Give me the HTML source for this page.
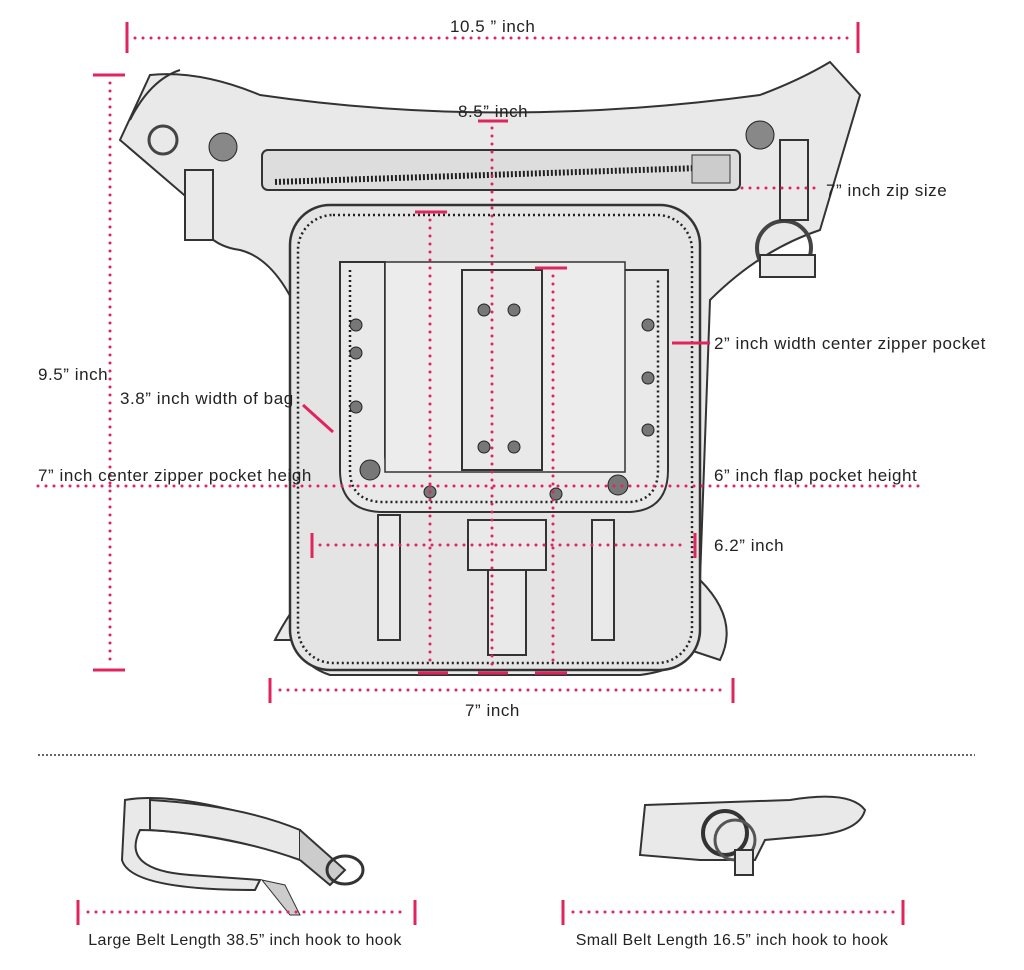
<!DOCTYPE html>
<html><head><meta charset="utf-8"><style>
html,body{margin:0;padding:0;background:#fff;}
svg{display:block;}
text{font-family:"Liberation Sans",sans-serif;font-size:17px;letter-spacing:0.55px;fill:#222;}
.p{stroke:#e0245e;stroke-width:3;stroke-linecap:round;stroke-dasharray:0 8;fill:none;}
.t{stroke:#e0245e;stroke-width:3;fill:none;}
.o{stroke:#333;stroke-width:2;fill:#e9e9e9;}
.d{stroke:#222;stroke-width:2.5;stroke-dasharray:2 3;fill:none;}
</style></head><body>
<svg width="1024" height="970" viewBox="0 0 1024 970">
<path class="o" d="M150 75 Q200 70 260 95 Q500 130 760 95 Q800 80 830 62 L860 95 L820 230 Q760 250 710 300 L700 580 Q740 620 720 660 L690 650 Q680 670 640 675 L330 675 Q300 665 298 640 L275 640 Q285 620 300 600 L305 330 Q280 260 240 250 Q200 245 190 200 L120 140 Z"/>
<path d="M130 120 Q150 80 180 70" stroke="#333" stroke-width="2" fill="none"/>
<rect x="185" y="170" width="28" height="70" class="o"/>
<circle cx="163" cy="140" r="14" fill="none" stroke="#444" stroke-width="3"/>
<circle cx="784" cy="248" r="27" fill="none" stroke="#444" stroke-width="4"/>
<rect x="780" y="140" width="28" height="80" class="o"/>
<rect x="760" y="255" width="55" height="22" class="o"/>
<circle cx="223" cy="147" r="14" fill="#888" stroke="#222"/>
<circle cx="760" cy="135" r="14" fill="#888" stroke="#222"/>
<rect x="262" y="150" width="478" height="40" rx="6" fill="#ddd" stroke="#333" stroke-width="2"/>
<path d="M275 182 L700 168" stroke="#222" stroke-width="6" stroke-dasharray="2 2"/>
<rect x="692" y="155" width="38" height="28" fill="#ccc" stroke="#333"/>
<rect x="290" y="205" width="410" height="465" rx="40" fill="#e4e4e4" stroke="#333" stroke-width="2.5"/>
<rect x="298" y="215" width="394" height="448" rx="35" class="d"/>
<path class="o" d="M340 262 L385 262 L385 455 Q385 470 400 470 L605 470 Q620 470 620 455 L620 270 L668 270 L668 470 Q668 510 630 512 L380 512 Q340 510 340 470 Z"/>
<path class="d" d="M350 270 L350 470 Q350 500 380 502 L630 502 Q658 500 658 470 L658 278"/>
<rect x="385" y="262" width="240" height="210" fill="#ececec" stroke="#333" stroke-width="1.5"/>
<rect x="462" y="270" width="80" height="200" class="o"/>
<g fill="#777" stroke="#222">
<circle cx="356" cy="325" r="6"/><circle cx="356" cy="353" r="6"/><circle cx="356" cy="407" r="6"/>
<circle cx="648" cy="325" r="6"/><circle cx="648" cy="378" r="6"/><circle cx="648" cy="430" r="6"/>
<circle cx="484" cy="310" r="6"/><circle cx="514" cy="310" r="6"/><circle cx="484" cy="447" r="6"/><circle cx="514" cy="447" r="6"/>
<circle cx="370" cy="470" r="10"/><circle cx="618" cy="485" r="10"/><circle cx="430" cy="492" r="6"/><circle cx="556" cy="494" r="6"/>
<circle cx="506" cy="605" r="9"/><circle cx="506" cy="630" r="9"/>
</g>
<rect x="378" y="515" width="22" height="125" class="o"/>
<rect x="592" y="520" width="22" height="120" class="o"/>
<rect x="488" y="570" width="38" height="85" class="o"/>
<rect x="468" y="520" width="78" height="50" class="o"/>
<text x="450" y="32">10.5 ” inch</text>
<line class="t" x1="127" y1="22" x2="127" y2="53"/><line class="t" x1="858" y1="22" x2="858" y2="53"/>
<line class="p" x1="135" y1="38" x2="852" y2="38"/>
<line class="t" x1="93" y1="75" x2="125" y2="75"/><line class="t" x1="93" y1="670" x2="125" y2="670"/>
<line class="p" x1="110" y1="83" x2="110" y2="664"/>
<text x="38" y="380">9.5” inch</text>
<text x="458" y="117">8.5” inch</text>
<line class="t" x1="478" y1="121" x2="508" y2="121"/>
<line class="p" x1="492" y1="128" x2="492" y2="670"/>
<line class="p" x1="742" y1="188" x2="820" y2="188"/>
<text x="826" y="196">7” inch zip size</text>
<line class="t" x1="415" y1="212" x2="447" y2="212"/>
<line class="p" x1="430" y1="220" x2="430" y2="668"/>
<line class="t" x1="535" y1="268" x2="567" y2="268"/>
<line class="p" x1="553" y1="276" x2="553" y2="668"/>
<line class="t" x1="418" y1="673" x2="448" y2="673"/><line class="t" x1="478" y1="673" x2="508" y2="673"/><line class="t" x1="535" y1="673" x2="567" y2="673"/>
<line class="t" x1="672" y1="343" x2="710" y2="343"/>
<text x="714" y="349">2” inch width center zipper pocket</text>
<text x="120" y="404">3.8” inch width of bag</text>
<line class="t" x1="303" y1="405" x2="333" y2="432"/>
<line class="p" x1="38" y1="486" x2="920" y2="486"/>
<text x="38" y="481">7” inch center zipper pocket heigh</text>
<text x="714" y="481">6” inch flap pocket height</text>
<line class="t" x1="312" y1="533" x2="312" y2="558"/><line class="t" x1="695" y1="533" x2="695" y2="558"/>
<line class="p" x1="320" y1="545" x2="688" y2="545"/>
<text x="714" y="551">6.2” inch</text>
<line class="t" x1="270" y1="678" x2="270" y2="703"/><line class="t" x1="733" y1="678" x2="733" y2="703"/>
<line class="p" x1="280" y1="690" x2="725" y2="690"/>
<text x="465" y="716">7” inch</text>
<line x1="38" y1="755" x2="975" y2="755" stroke="#333" stroke-width="1.5" stroke-dasharray="2 2"/>
<path class="o" d="M125 800 Q180 790 300 830 L310 860 Q200 830 140 830 Q120 870 190 875 L260 880 L255 890 Q130 890 122 860 Z"/>
<path class="o" d="M150 800 Q240 805 300 830 L300 860 Q230 835 150 830 Z"/>
<path d="M300 830 L345 870 L330 885 L300 860" stroke="#333" stroke-width="2" fill="#ccc"/>
<ellipse cx="345" cy="870" rx="18" ry="14" fill="none" stroke="#333" stroke-width="3"/>
<path d="M262 880 L285 885 L300 915 L290 915 Z" fill="#ccc" stroke="#333"/>
<line class="t" x1="78" y1="900" x2="78" y2="925"/><line class="t" x1="415" y1="900" x2="415" y2="925"/>
<line class="p" x1="88" y1="912" x2="407" y2="912"/>
<text x="245" y="945" text-anchor="middle" style="font-size:16px;letter-spacing:0.4px">Large Belt Length 38.5” inch hook to hook</text>
<path class="o" d="M645 805 L790 800 Q850 790 865 810 Q860 830 820 835 L765 840 L755 860 L700 860 L640 855 Z"/>
<circle cx="725" cy="833" r="22" fill="none" stroke="#333" stroke-width="4"/>
<circle cx="735" cy="840" r="20" fill="none" stroke="#555" stroke-width="3"/>
<rect x="735" y="850" width="18" height="25" class="o"/>
<line class="t" x1="563" y1="900" x2="563" y2="925"/><line class="t" x1="903" y1="900" x2="903" y2="925"/>
<line class="p" x1="573" y1="912" x2="895" y2="912"/>
<text x="732" y="945" text-anchor="middle" style="font-size:16px;letter-spacing:0.4px">Small Belt Length 16.5” inch hook to hook</text>
</svg>
</body></html>
